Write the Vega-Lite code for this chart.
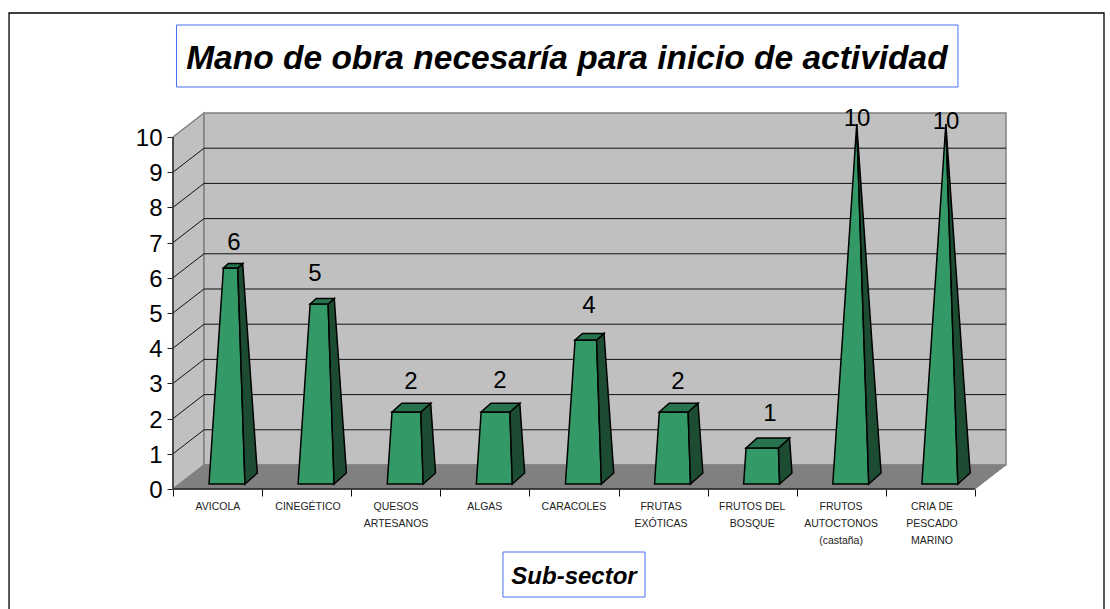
{"$schema":"https://vega.github.io/schema/vega-lite/v6.json","width":1110,"height":609,"padding":0,"autosize":{"type":"none"},"background":"white","config":{"view":{"stroke":null},"text":{"font":"Liberation Sans"}},
"datasets":{
"polys":[
{"f":"side","k":"wall","o":1,"x":0,"y":0},{"f":"side","k":"wall","o":2,"x":0.348,"y":0.682},{"f":"side","k":"wall","o":3,"x":0.348,"y":10.682},{"f":"side","k":"wall","o":4,"x":0,"y":10},
{"f":"back","k":"wall","o":1,"x":0.348,"y":0.682},{"f":"back","k":"wall","o":2,"x":9.348,"y":0.682},{"f":"back","k":"wall","o":3,"x":9.348,"y":10.682},{"f":"back","k":"wall","o":4,"x":0.348,"y":10.682},
{"f":"floor","k":"floor","o":1,"x":0,"y":0},{"f":"floor","k":"floor","o":2,"x":9,"y":0},{"f":"floor","k":"floor","o":3,"x":9.348,"y":0.682},{"f":"floor","k":"floor","o":4,"x":0.348,"y":0.682}
],
"bars":[
{"f":"b0f","k":"front","o":1,"x":0.404,"y":0.142},{"f":"b0f","k":"front","o":2,"x":0.808,"y":0.142},{"f":"b0f","k":"front","o":3,"x":0.727,"y":6.278},{"f":"b0f","k":"front","o":4,"x":0.566,"y":6.278},
{"f":"b0s","k":"side","o":1,"x":0.808,"y":0.142},{"f":"b0s","k":"side","o":2,"x":0.946,"y":0.4545},{"f":"b0s","k":"side","o":3,"x":0.782,"y":6.403},{"f":"b0s","k":"side","o":4,"x":0.727,"y":6.278},
{"f":"b0t","k":"top","o":1,"x":0.566,"y":6.278},{"f":"b0t","k":"top","o":2,"x":0.727,"y":6.278},{"f":"b0t","k":"top","o":3,"x":0.782,"y":6.403},{"f":"b0t","k":"top","o":4,"x":0.621,"y":6.403},
{"f":"b1f","k":"front","o":1,"x":1.404,"y":0.142},{"f":"b1f","k":"front","o":2,"x":1.808,"y":0.142},{"f":"b1f","k":"front","o":3,"x":1.741,"y":5.256},{"f":"b1f","k":"front","o":4,"x":1.539,"y":5.256},
{"f":"b1s","k":"side","o":1,"x":1.808,"y":0.142},{"f":"b1s","k":"side","o":2,"x":1.946,"y":0.4545},{"f":"b1s","k":"side","o":3,"x":1.81,"y":5.412},{"f":"b1s","k":"side","o":4,"x":1.741,"y":5.256},
{"f":"b1t","k":"top","o":1,"x":1.539,"y":5.256},{"f":"b1t","k":"top","o":2,"x":1.741,"y":5.256},{"f":"b1t","k":"top","o":3,"x":1.81,"y":5.412},{"f":"b1t","k":"top","o":4,"x":1.608,"y":5.412},
{"f":"b2f","k":"front","o":1,"x":2.404,"y":0.142},{"f":"b2f","k":"front","o":2,"x":2.808,"y":0.142},{"f":"b2f","k":"front","o":3,"x":2.781,"y":2.187},{"f":"b2f","k":"front","o":4,"x":2.458,"y":2.187},
{"f":"b2s","k":"side","o":1,"x":2.808,"y":0.142},{"f":"b2s","k":"side","o":2,"x":2.946,"y":0.4545},{"f":"b2s","k":"side","o":3,"x":2.892,"y":2.437},{"f":"b2s","k":"side","o":4,"x":2.781,"y":2.187},
{"f":"b2t","k":"top","o":1,"x":2.458,"y":2.187},{"f":"b2t","k":"top","o":2,"x":2.781,"y":2.187},{"f":"b2t","k":"top","o":3,"x":2.892,"y":2.437},{"f":"b2t","k":"top","o":4,"x":2.568,"y":2.437},
{"f":"b3f","k":"front","o":1,"x":3.404,"y":0.142},{"f":"b3f","k":"front","o":2,"x":3.808,"y":0.142},{"f":"b3f","k":"front","o":3,"x":3.781,"y":2.187},{"f":"b3f","k":"front","o":4,"x":3.458,"y":2.187},
{"f":"b3s","k":"side","o":1,"x":3.808,"y":0.142},{"f":"b3s","k":"side","o":2,"x":3.946,"y":0.4545},{"f":"b3s","k":"side","o":3,"x":3.892,"y":2.437},{"f":"b3s","k":"side","o":4,"x":3.781,"y":2.187},
{"f":"b3t","k":"top","o":1,"x":3.458,"y":2.187},{"f":"b3t","k":"top","o":2,"x":3.781,"y":2.187},{"f":"b3t","k":"top","o":3,"x":3.892,"y":2.437},{"f":"b3t","k":"top","o":4,"x":3.568,"y":2.437},
{"f":"b4f","k":"front","o":1,"x":4.404,"y":0.142},{"f":"b4f","k":"front","o":2,"x":4.808,"y":0.142},{"f":"b4f","k":"front","o":3,"x":4.754,"y":4.233},{"f":"b4f","k":"front","o":4,"x":4.512,"y":4.233},
{"f":"b4s","k":"side","o":1,"x":4.808,"y":0.142},{"f":"b4s","k":"side","o":2,"x":4.946,"y":0.4545},{"f":"b4s","k":"side","o":3,"x":4.837,"y":4.42},{"f":"b4s","k":"side","o":4,"x":4.754,"y":4.233},
{"f":"b4t","k":"top","o":1,"x":4.512,"y":4.233},{"f":"b4t","k":"top","o":2,"x":4.754,"y":4.233},{"f":"b4t","k":"top","o":3,"x":4.837,"y":4.42},{"f":"b4t","k":"top","o":4,"x":4.595,"y":4.42},
{"f":"b5f","k":"front","o":1,"x":5.404,"y":0.142},{"f":"b5f","k":"front","o":2,"x":5.808,"y":0.142},{"f":"b5f","k":"front","o":3,"x":5.781,"y":2.187},{"f":"b5f","k":"front","o":4,"x":5.458,"y":2.187},
{"f":"b5s","k":"side","o":1,"x":5.808,"y":0.142},{"f":"b5s","k":"side","o":2,"x":5.946,"y":0.4545},{"f":"b5s","k":"side","o":3,"x":5.892,"y":2.437},{"f":"b5s","k":"side","o":4,"x":5.781,"y":2.187},
{"f":"b5t","k":"top","o":1,"x":5.458,"y":2.187},{"f":"b5t","k":"top","o":2,"x":5.781,"y":2.187},{"f":"b5t","k":"top","o":3,"x":5.892,"y":2.437},{"f":"b5t","k":"top","o":4,"x":5.568,"y":2.437},
{"f":"b6f","k":"front","o":1,"x":6.404,"y":0.142},{"f":"b6f","k":"front","o":2,"x":6.808,"y":0.142},{"f":"b6f","k":"front","o":3,"x":6.795,"y":1.165},{"f":"b6f","k":"front","o":4,"x":6.431,"y":1.165},
{"f":"b6s","k":"side","o":1,"x":6.808,"y":0.142},{"f":"b6s","k":"side","o":2,"x":6.946,"y":0.4545},{"f":"b6s","k":"side","o":3,"x":6.919,"y":1.446},{"f":"b6s","k":"side","o":4,"x":6.795,"y":1.165},
{"f":"b6t","k":"top","o":1,"x":6.431,"y":1.165},{"f":"b6t","k":"top","o":2,"x":6.795,"y":1.165},{"f":"b6t","k":"top","o":3,"x":6.919,"y":1.446},{"f":"b6t","k":"top","o":4,"x":6.555,"y":1.446},
{"f":"b7f","k":"front","o":1,"x":7.404,"y":0.142},{"f":"b7f","k":"front","o":2,"x":7.808,"y":0.142},{"f":"b7f","k":"front","o":3,"x":7.673,"y":10.369},
{"f":"b7s","k":"side","o":1,"x":7.808,"y":0.142},{"f":"b7s","k":"side","o":2,"x":7.946,"y":0.4545},{"f":"b7s","k":"side","o":3,"x":7.673,"y":10.369},
{"f":"b8f","k":"front","o":1,"x":8.404,"y":0.142},{"f":"b8f","k":"front","o":2,"x":8.808,"y":0.142},{"f":"b8f","k":"front","o":3,"x":8.673,"y":10.369},
{"f":"b8s","k":"side","o":1,"x":8.808,"y":0.142},{"f":"b8s","k":"side","o":2,"x":8.946,"y":0.4545},{"f":"b8s","k":"side","o":3,"x":8.673,"y":10.369}
],
"grid":[
{"x":0.348,"x2":9.348,"y":1.682,"y2":1.682},{"x":0.348,"x2":9.348,"y":2.682,"y2":2.682},{"x":0.348,"x2":9.348,"y":3.682,"y2":3.682},{"x":0.348,"x2":9.348,"y":4.682,"y2":4.682},{"x":0.348,"x2":9.348,"y":5.682,"y2":5.682},{"x":0.348,"x2":9.348,"y":6.682,"y2":6.682},{"x":0.348,"x2":9.348,"y":7.682,"y2":7.682},{"x":0.348,"x2":9.348,"y":8.682,"y2":8.682},{"x":0.348,"x2":9.348,"y":9.682,"y2":9.682},
{"x":0,"x2":0.348,"y":1,"y2":1.682},{"x":0,"x2":0.348,"y":2,"y2":2.682},{"x":0,"x2":0.348,"y":3,"y2":3.682},{"x":0,"x2":0.348,"y":4,"y2":4.682},{"x":0,"x2":0.348,"y":5,"y2":5.682},{"x":0,"x2":0.348,"y":6,"y2":6.682},{"x":0,"x2":0.348,"y":7,"y2":7.682},{"x":0,"x2":0.348,"y":8,"y2":8.682},{"x":0,"x2":0.348,"y":9,"y2":9.682}
],
"axislines":[{"x":0,"x2":0,"y":0,"y2":10},{"x":0,"x2":9,"y":0,"y2":0}],
"values":[
{"t":"6","x":0.6845,"y":6.987},{"t":"5","x":1.594,"y":6.106},{"t":"2","x":2.671,"y":3.038},{"t":"2","x":3.67,"y":3.067},{"t":"4","x":4.668,"y":5.197},{"t":"2","x":5.667,"y":3.038},{"t":"1","x":6.7,"y":2.129},{"t":"10","x":7.676,"y":10.51},{"t":"10","x":8.675,"y":10.425}
],
"cats":[
{"t":"AVICOLA","x":0.505,"y":-0.369},{"t":"CINEGÉTICO","x":1.515,"y":-0.369},{"t":"QUESOS\nARTESANOS","x":2.503,"y":-0.369},{"t":"ALGAS","x":3.5,"y":-0.369},{"t":"CARACOLES","x":4.5,"y":-0.369},{"t":"FRUTAS\nEXÓTICAS","x":5.477,"y":-0.369},{"t":"FRUTOS DEL\nBOSQUE","x":6.5,"y":-0.369},{"t":"FRUTOS\nAUTOCTONOS\n(castaña)","x":7.497,"y":-0.369},{"t":"CRIA DE\nPESCADO\nMARINO","x":8.518,"y":-0.369}
],
"frame":[{"x":-1.84,"x2":10.448,"y":-3.6,"y2":13.523}],
"boxes":[{"x":0.0393,"x2":8.809,"y":11.42,"y2":13.182},{"x":3.703,"x2":5.297,"y":-3.068,"y2":-1.79}],
"title":[{"t":"Mano de obra necesaría para inicio de actividad","x":4.421,"y":12.23}],
"subtitle":[{"t":"Sub-sector","x":4.5,"y":-2.49}]
},
"encoding":{
"x":{"field":"x","type":"quantitative","scale":{"domain":[-1.9414,10.5153],"nice":false,"zero":false},"axis":{"values":[0,1,2,3,4,5,6,7,8,9],"labels":false,"domain":false,"grid":false,"title":null,"tickSize":7,"tickColor":"#111","tickWidth":1,"offset":-120,"orient":"bottom"}},
"y":{"field":"y","type":"quantitative","scale":{"domain":[-3.409,13.892],"nice":false,"zero":false},"axis":{"values":[0,1,2,3,4,5,6,7,8,9,10],"format":"d","domain":false,"grid":false,"title":null,"tickSize":6,"tickColor":"#222","tickWidth":1,"offset":-173,"orient":"left","labelFont":"Liberation Sans","labelFontSize":24,"labelColor":"#000","labelPadding":5,"labelOffset":1.5,"labelOverlap":false}}
},
"layer":[
{"data":{"name":"frame"},"mark":{"type":"rect","fill":"transparent","stroke":"#000","strokeWidth":1.3},"encoding":{"x2":{"field":"x2"},"y2":{"field":"y2"}}},
{"data":{"name":"boxes"},"mark":{"type":"rect","fill":"white","stroke":"#4a6ef5","strokeWidth":1},"encoding":{"x2":{"field":"x2"},"y2":{"field":"y2"}}},
{"data":{"name":"polys"},"transform":[{"filter":"datum.k==='wall'"}],"mark":{"type":"line","interpolate":"linear-closed","fill":"#c0c0c0","stroke":"#808080","strokeWidth":1.5},"encoding":{"detail":{"field":"f"},"order":{"field":"o"}}},
{"data":{"name":"polys"},"transform":[{"filter":"datum.k==='floor'"}],"mark":{"type":"line","interpolate":"linear-closed","fill":"#808080","stroke":"#808080","strokeWidth":1},"encoding":{"detail":{"field":"f"},"order":{"field":"o"}}},
{"data":{"name":"grid"},"mark":{"type":"rule","color":"#111","strokeWidth":1},"encoding":{"x2":{"field":"x2"},"y2":{"field":"y2"}}},
{"data":{"name":"axislines"},"mark":{"type":"rule","color":"#222","strokeWidth":1.3},"encoding":{"x2":{"field":"x2"},"y2":{"field":"y2"}}},
{"data":{"name":"bars"},"transform":[{"filter":"datum.k==='front'"}],"mark":{"type":"line","interpolate":"linear-closed","fill":"#339966","stroke":"#000","strokeWidth":1.5},"encoding":{"detail":{"field":"f"},"order":{"field":"o"}}},
{"data":{"name":"bars"},"transform":[{"filter":"datum.k==='side'"}],"mark":{"type":"line","interpolate":"linear-closed","fill":"#1c4d33","stroke":"#000","strokeWidth":1.5},"encoding":{"detail":{"field":"f"},"order":{"field":"o"}}},
{"data":{"name":"bars"},"transform":[{"filter":"datum.k==='top'"}],"mark":{"type":"line","interpolate":"linear-closed","fill":"#26734d","stroke":"#000","strokeWidth":1.5},"encoding":{"detail":{"field":"f"},"order":{"field":"o"}}},
{"data":{"name":"values"},"mark":{"type":"text","font":"Liberation Sans","fontSize":24,"color":"#000","align":"center","baseline":"middle"},"encoding":{"text":{"field":"t"}}},
{"data":{"name":"cats"},"mark":{"type":"text","font":"Liberation Sans","fontSize":10.5,"color":"#222","align":"center","baseline":"top","lineBreak":"\n","lineHeight":17},"encoding":{"text":{"field":"t"}}},
{"data":{"name":"title"},"mark":{"type":"text","font":"Liberation Sans","fontSize":33.5,"fontWeight":"bold","fontStyle":"italic","color":"#000","align":"center","baseline":"middle"},"encoding":{"text":{"field":"t"}}},
{"data":{"name":"subtitle"},"mark":{"type":"text","font":"Liberation Sans","fontSize":24,"fontWeight":"bold","fontStyle":"italic","color":"#000","align":"center","baseline":"middle"},"encoding":{"text":{"field":"t"}}}
]}
